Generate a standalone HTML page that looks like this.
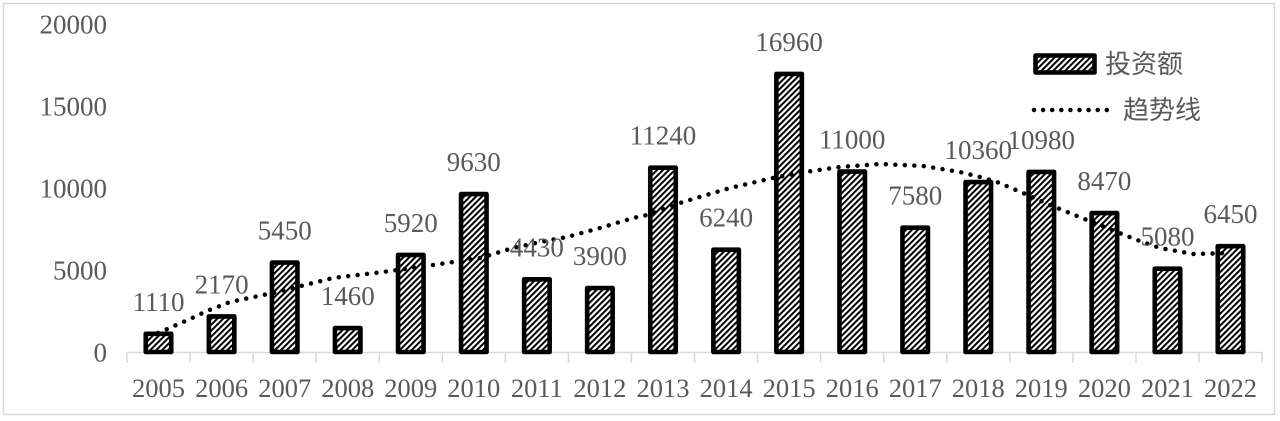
<!DOCTYPE html>
<html>
<head>
<meta charset="utf-8">
<style>
html,body{margin:0;padding:0;background:#fff;}
svg{display:block;}
.num{font-family:"Liberation Serif","Noto Serif CJK SC",serif;fill:#595959;}
.cjk{font-family:"Liberation Sans","Noto Sans CJK SC",sans-serif;fill:#595959;}
</style>
</head>
<body>
<svg width="1280" height="421" viewBox="0 0 1280 421" xmlns="http://www.w3.org/2000/svg">
<defs>
<pattern id="hatch" patternUnits="userSpaceOnUse" width="4.2" height="4.2" patternTransform="rotate(45)">
<rect x="0" y="0" width="4.2" height="4.2" fill="#fff"/>
<rect x="0" y="0" width="2" height="4.2" fill="#000"/>
</pattern>
</defs>
<rect x="0" y="0" width="1280" height="421" fill="#fff"/>
<rect x="3.5" y="3.5" width="1271" height="411" fill="none" stroke="#d9d9d9" stroke-width="1.5"/>

<!-- y labels -->
<g class="num" font-size="27" text-anchor="end">
<text x="107" y="361.5">0</text>
<text x="107" y="279.5">5000</text>
<text x="107" y="197.5">10000</text>
<text x="107" y="115.5">15000</text>
<text x="107" y="33.5">20000</text>
</g>

<!-- axis -->
<g stroke="#d9d9d9" stroke-width="1.5">
<line x1="127" y1="352.5" x2="1262" y2="352.5"/>
<line x1="127" y1="352" x2="127" y2="363"/>
<line x1="190.06" y1="352" x2="190.06" y2="363"/>
<line x1="253.12" y1="352" x2="253.12" y2="363"/>
<line x1="316.18" y1="352" x2="316.18" y2="363"/>
<line x1="379.24" y1="352" x2="379.24" y2="363"/>
<line x1="442.3" y1="352" x2="442.3" y2="363"/>
<line x1="505.36" y1="352" x2="505.36" y2="363"/>
<line x1="568.42" y1="352" x2="568.42" y2="363"/>
<line x1="631.48" y1="352" x2="631.48" y2="363"/>
<line x1="694.54" y1="352" x2="694.54" y2="363"/>
<line x1="757.6" y1="352" x2="757.6" y2="363"/>
<line x1="820.66" y1="352" x2="820.66" y2="363"/>
<line x1="883.72" y1="352" x2="883.72" y2="363"/>
<line x1="946.78" y1="352" x2="946.78" y2="363"/>
<line x1="1009.84" y1="352" x2="1009.84" y2="363"/>
<line x1="1072.9" y1="352" x2="1072.9" y2="363"/>
<line x1="1135.96" y1="352" x2="1135.96" y2="363"/>
<line x1="1199.02" y1="352" x2="1199.02" y2="363"/>
<line x1="1262" y1="352" x2="1262" y2="363"/>
</g>

<!-- bars -->
<g fill="url(#hatch)" stroke="#000" stroke-width="4.6" stroke-linejoin="round">
<rect x="145.75" y="333.8" width="25.5" height="18.2"/>
<rect x="208.85" y="316.4" width="25.5" height="35.6"/>
<rect x="271.95" y="262.6" width="25.5" height="89.4"/>
<rect x="334.95" y="328.1" width="25.5" height="23.9"/>
<rect x="398.05" y="254.9" width="25.5" height="97.1"/>
<rect x="461.05" y="194.1" width="25.5" height="157.9"/>
<rect x="524.15" y="279.3" width="25.5" height="72.7"/>
<rect x="587.15" y="288.0" width="25.5" height="64.0"/>
<rect x="650.25" y="167.7" width="25.5" height="184.3"/>
<rect x="713.35" y="249.7" width="25.5" height="102.3"/>
<rect x="776.35" y="73.9" width="25.5" height="278.1"/>
<rect x="839.45" y="171.6" width="25.5" height="180.4"/>
<rect x="902.45" y="227.7" width="25.5" height="124.3"/>
<rect x="965.55" y="182.1" width="25.5" height="169.9"/>
<rect x="1028.55" y="171.9" width="25.5" height="180.1"/>
<rect x="1091.65" y="213.1" width="25.5" height="138.9"/>
<rect x="1154.75" y="268.7" width="25.5" height="83.3"/>
<rect x="1217.75" y="246.2" width="25.5" height="105.8"/>
</g>

<!-- trend line -->
<polyline fill="none" stroke="#000" stroke-width="4.5" stroke-linecap="round" stroke-linejoin="round" stroke-dasharray="0 9.5"
points="158,333 174,326 190,319 207,311 230,302 254,297 277,292 313,283 333,278 358,275 383,272 433,265 480,258 513,248 540,242 567,237 600,228 633,218 647,215 683,202 730,188 773,178 805,172 840,167 880,164 923,166 960,172 980,177 997,182 1023,193 1050,205 1077,216 1107,228 1137,240 1160,248 1193,254 1230,253"/>

<!-- data labels -->
<g class="num" font-size="27" text-anchor="middle">
<text x="158.5" y="310.8">1110</text>
<text x="221.6" y="293.4">2170</text>
<text x="284.7" y="239.6">5450</text>
<text x="347.7" y="305.1">1460</text>
<text x="410.8" y="231.9">5920</text>
<text x="473.8" y="171.1">9630</text>
<text x="536.9" y="256.3">4430</text>
<text x="599.9" y="265.0">3900</text>
<text x="663.0" y="144.7">11240</text>
<text x="726.1" y="226.7">6240</text>
<text x="789.1" y="50.9">16960</text>
<text x="852.2" y="148.6">11000</text>
<text x="915.2" y="204.7">7580</text>
<text x="978.3" y="159.1">10360</text>
<text x="1041.3" y="148.9">10980</text>
<text x="1104.4" y="190.1">8470</text>
<text x="1167.5" y="245.7">5080</text>
<text x="1230.5" y="223.2">6450</text>
</g>

<!-- x labels -->
<g class="num" font-size="26.5" text-anchor="middle">
<text x="158.5" y="397">2005</text>
<text x="221.6" y="397">2006</text>
<text x="284.7" y="397">2007</text>
<text x="347.7" y="397">2008</text>
<text x="410.8" y="397">2009</text>
<text x="473.8" y="397">2010</text>
<text x="536.9" y="397">2011</text>
<text x="599.9" y="397">2012</text>
<text x="663.0" y="397">2013</text>
<text x="726.1" y="397">2014</text>
<text x="789.1" y="397">2015</text>
<text x="852.2" y="397">2016</text>
<text x="915.2" y="397">2017</text>
<text x="978.3" y="397">2018</text>
<text x="1041.3" y="397">2019</text>
<text x="1104.4" y="397">2020</text>
<text x="1167.5" y="397">2021</text>
<text x="1230.5" y="397">2022</text>
</g>

<!-- legend -->
<rect x="1035.5" y="55.5" width="59" height="17" fill="url(#hatch)" stroke="#000" stroke-width="4.6" stroke-linejoin="round"/>
<text class="cjk" x="1105" y="73" font-size="26">投资额</text>
<line x1="1034" y1="110" x2="1107" y2="110" stroke="#000" stroke-width="4.5" stroke-linecap="round" stroke-dasharray="0 9.1"/>
<text class="cjk" x="1123" y="119" font-size="26">趋势线</text>
</svg>
</body>
</html>
